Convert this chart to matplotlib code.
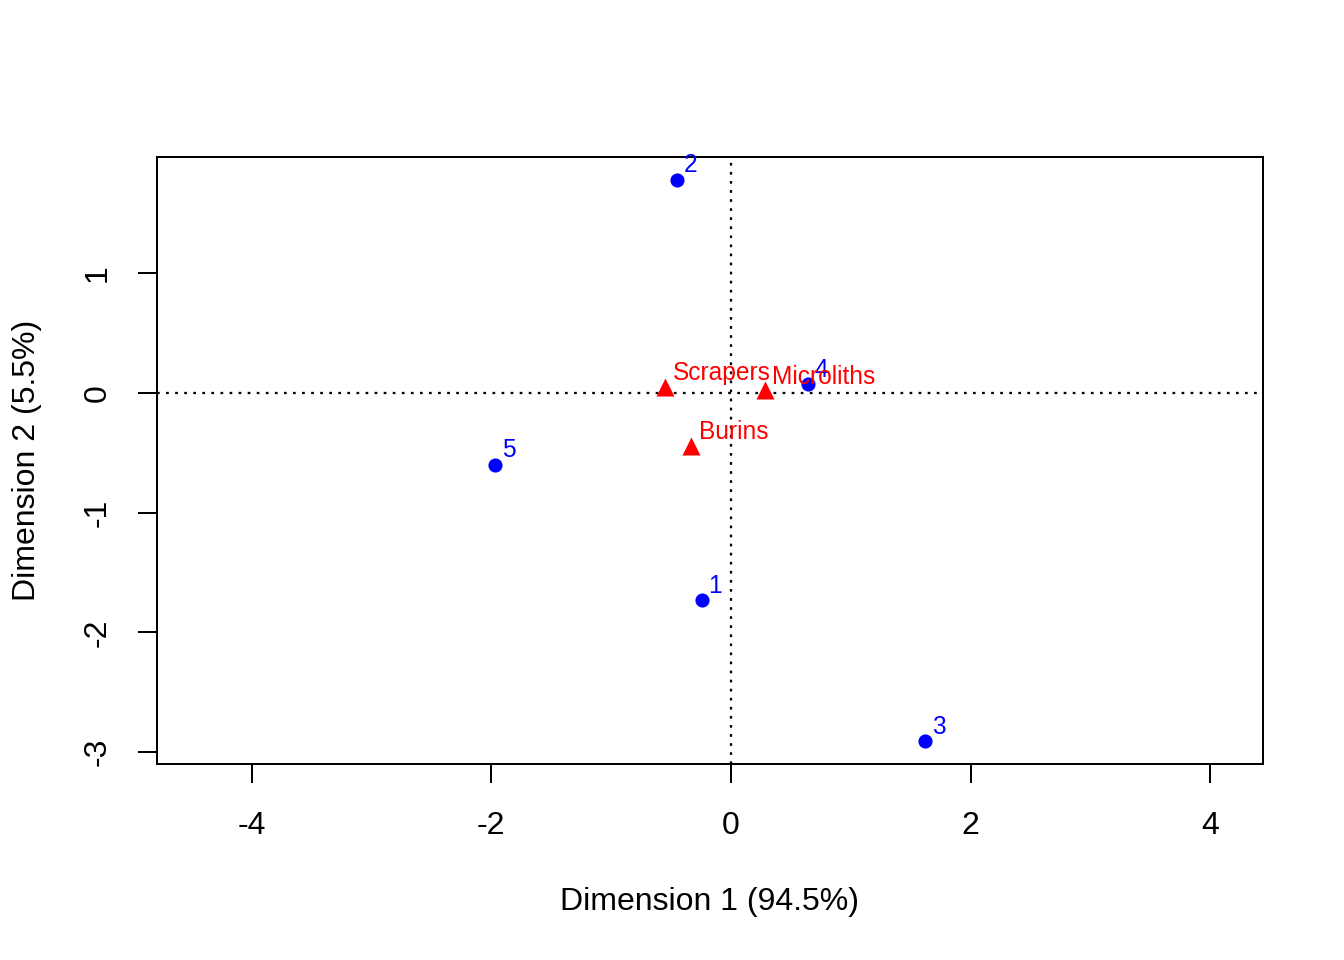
import matplotlib
matplotlib.use("Agg")
import matplotlib.pyplot as plt

# Data
row_labels = ["1", "2", "3", "4", "5"]
row_x = [-0.245, -0.45, 1.62, 0.64, -1.97]
row_y = [-1.73, 1.78, -2.91, 0.07, -0.60]

col_labels = ["Burins", "Microliths", "Scrapers"]
col_x = [-0.33, 0.28, -0.55]
col_y = [-0.44, 0.02, 0.05]

xlabel = "Dimension 1 (94.5%)"
ylabel = "Dimension 2 (5.5%)"
xticks = [-4, -2, 0, 2, 4]
yticks = [-3, -2, -1, 0, 1]

plt.rcParams['font.family'] = ['Liberation Sans', 'DejaVu Sans']

fig = plt.figure(figsize=(7, 5), dpi=192)
ax = fig.add_axes([157/1344, 1 - 764/960, (1263-157)/1344, (764-157)/960])

ax.set_xlim(-4.79, 4.44)
ax.set_ylim(-3.10, 1.97)

ax.axhline(0, color='black', lw=0.85, ls=(0, (1.2, 2.8)), zorder=1)
ax.axvline(0, color='black', lw=0.85, ls=(0, (1.2, 2.8)), zorder=1)

ax.plot(row_x, row_y, 'o', color='blue', ms=5.3, mec='none', zorder=3)
ax.plot(col_x, col_y, '^', color='red', ms=6.5, mec='none', zorder=3)

for lab, x, y in zip(row_labels, row_x, row_y):
    ax.annotate(lab, (x, y), xytext=(2.6, 2.8), textcoords='offset points',
                ha='left', va='baseline', color='blue', fontsize=9.2, zorder=4)
for lab, x, y in zip(col_labels, col_x, col_y):
    ax.annotate(lab, (x, y), xytext=(2.8, 2.4), textcoords='offset points',
                ha='left', va='baseline', color='red', fontsize=9.2, zorder=4)

ax.set_xticks(xticks)
ax.set_yticks(yticks)
ax.set_xticklabels([str(t) for t in xticks])
ax.set_yticklabels([str(t) for t in yticks], rotation=90, va='center')
ax.tick_params(axis='both', direction='out', length=7.1, width=0.75, labelsize=12, color='black')
ax.tick_params(axis='x', pad=10.5)
ax.tick_params(axis='y', pad=9.5)
for s in ax.spines.values():
    s.set_linewidth(0.75)

fig.text(710/1344, 1 - 902/960, xlabel, ha='center', va='center', fontsize=12)
fig.text(27/1344, 1 - 460/960, ylabel, ha='center', va='center', rotation=90, fontsize=12)

fig.savefig("out.png", dpi=192)
